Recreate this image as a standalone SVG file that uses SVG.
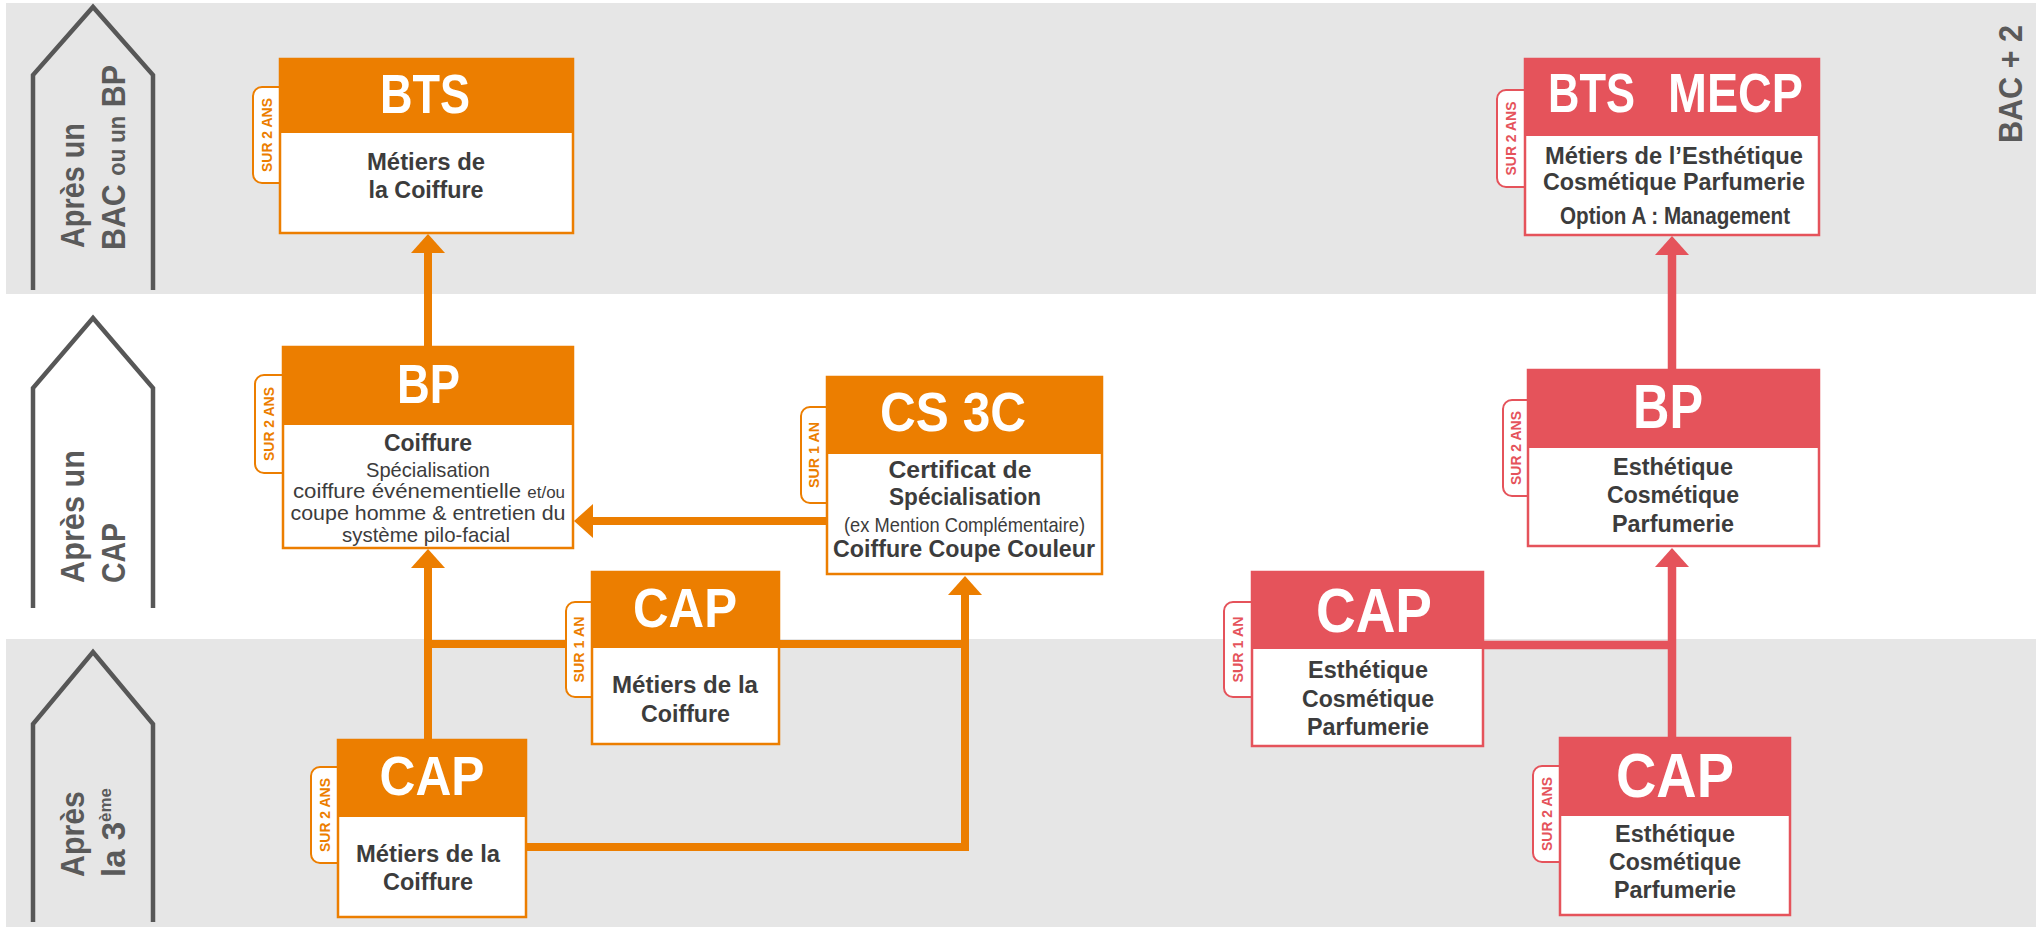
<svg xmlns="http://www.w3.org/2000/svg" width="2036" height="927" viewBox="0 0 2036 927">
<style>
.band{fill:#e6e6e6}
.pent{fill:none;stroke:#575757;stroke-width:4.5;stroke-linejoin:miter}
.ptxt{font-family:"Liberation Sans",Arial,sans-serif;font-weight:bold;font-size:33px;fill:#5a5a5a}
.o .hd{fill:#ec7e00}
.o .box{fill:#fff;stroke:#ec7e00;stroke-width:2.5}
.o .tab{fill:#fff;stroke:#ec7e00;stroke-width:2}
.o .tt{fill:#ec7e00}
.r .hd{fill:#e5535b}
.r .box{fill:#fff;stroke:#e5535b;stroke-width:2.5}
.r .tab{fill:#fff;stroke:#e5535b;stroke-width:2}
.r .tt{fill:#e5535b}
.ht{font-family:"Liberation Sans",Arial,sans-serif;font-weight:bold;font-size:56px;fill:#fff;text-anchor:middle}
.big{font-size:63px}
.b{font-family:"Liberation Sans",Arial,sans-serif;font-weight:bold;font-size:23px;fill:#3c3c3c;text-anchor:middle}
.n{font-family:"Liberation Sans",Arial,sans-serif;font-weight:normal;font-size:21px;fill:#3c3c3c;text-anchor:middle}
.tt{font-family:"Liberation Sans",Arial,sans-serif;font-weight:bold;font-size:14px;text-anchor:middle}
.ol{stroke:#ec7e00;stroke-width:8;fill:none}
.rl{stroke:#e5535b;stroke-width:8.5;fill:none}
.oa{fill:#ec7e00}
.ra{fill:#e5535b}
</style>

<g id="background">
<rect class="band" x="6" y="3" width="2030" height="291"/>
<rect class="band" x="6" y="639" width="2030" height="288"/>
</g>

<g id="level-bac">
<polyline class="pent" points="33,290 33,75 93,7 153,75 153,290"/>
<text class="ptxt" font-size="32" transform="translate(84,248) rotate(-90)" textLength="125" lengthAdjust="spacingAndGlyphs">Après un</text>
<text class="ptxt" transform="translate(125,250) rotate(-90)" textLength="185" lengthAdjust="spacingAndGlyphs">BAC <tspan font-size="24">ou un</tspan> BP</text>
</g>
<g id="level-cap">
<polyline class="pent" points="33,608 33,388 93,318 153,388 153,608"/>
<text class="ptxt" font-size="32" transform="translate(84,583) rotate(-90)" textLength="133" lengthAdjust="spacingAndGlyphs">Après un</text>
<text class="ptxt" transform="translate(125,583) rotate(-90)" textLength="60" lengthAdjust="spacingAndGlyphs">CAP</text>
</g>
<g id="level-3eme">
<polyline class="pent" points="33,922 33,724 93,652 153,724 153,922"/>
<text class="ptxt" font-size="32" transform="translate(84,877) rotate(-90)" textLength="86" lengthAdjust="spacingAndGlyphs">Après</text>
<text class="ptxt" transform="translate(125,877) rotate(-90)">la 3<tspan font-size="17" dy="-14">ème</tspan></text>
</g>
<g id="level-bac2">
<text class="ptxt" font-size="30" transform="translate(2022,143) rotate(-90)" textLength="118" lengthAdjust="spacingAndGlyphs">BAC + 2</text>
</g>

<g id="connectors">
<line class="ol" x1="428" y1="740" x2="428" y2="566"/>
<polygon class="oa" points="428,549 411,568 445,568"/>
<line class="ol" x1="428" y1="347" x2="428" y2="251"/>
<polygon class="oa" points="428,234 411,253 445,253"/>
<line class="ol" x1="428" y1="644" x2="570" y2="644"/>
<line class="ol" x1="830" y1="521" x2="591" y2="521"/>
<polygon class="oa" points="574,521 593,504 593,538"/>
<line class="ol" x1="777" y1="644" x2="965" y2="644"/>
<polyline class="ol" points="524,847 965,847 965,594"/>
<polygon class="oa" points="965,576 948,595 982,595"/>
<line class="rl" x1="1672" y1="738" x2="1672" y2="565"/>
<polygon class="ra" points="1672,548 1655,567 1689,567"/>
<line class="rl" x1="1672" y1="370" x2="1672" y2="253"/>
<polygon class="ra" points="1672,236 1655,255 1689,255"/>
<line class="rl" x1="1481" y1="645" x2="1672" y2="645"/>
</g>

<g id="bts-coiffure" class="o">
<path class="tab" d="M280,87 H262 A9,9 0 0 0 253,96 V174 A9,9 0 0 0 262,183 H280"/>
<rect class="box" x="280" y="59" width="293" height="174"/>
<rect class="hd" x="279" y="58" width="295" height="75"/>
<text class="ht" x="425" y="113" textLength="90" lengthAdjust="spacingAndGlyphs">BTS</text>
<text class="b" x="426" y="170" textLength="118" lengthAdjust="spacingAndGlyphs">Métiers de</text>
<text class="b" x="426" y="198" textLength="115" lengthAdjust="spacingAndGlyphs">la Coiffure</text>
<text class="tt" transform="translate(271.5,135) rotate(-90)" textLength="74" lengthAdjust="spacingAndGlyphs">SUR 2 ANS</text>
</g>

<g id="bp-coiffure" class="o">
<path class="tab" d="M283,375 H264 A9,9 0 0 0 255,384 V464 A9,9 0 0 0 264,473 H283"/>
<rect class="box" x="283" y="347" width="290" height="201"/>
<rect class="hd" x="282" y="346" width="292" height="79"/>
<text class="ht" x="428.5" y="403" textLength="63" lengthAdjust="spacingAndGlyphs">BP</text>
<text class="b" x="428" y="451" textLength="88" lengthAdjust="spacingAndGlyphs">Coiffure</text>
<text class="n" x="428" y="477" textLength="124" lengthAdjust="spacingAndGlyphs">Spécialisation</text>
<text class="n" x="429" y="498" textLength="272" lengthAdjust="spacingAndGlyphs">coiffure événementielle <tspan font-size="16">et/ou</tspan></text>
<text class="n" x="428" y="520" textLength="275" lengthAdjust="spacingAndGlyphs">coupe homme &amp; entretien du</text>
<text class="n" x="426" y="542" textLength="168" lengthAdjust="spacingAndGlyphs">système pilo-facial</text>
<text class="tt" transform="translate(274,424) rotate(-90)" textLength="74" lengthAdjust="spacingAndGlyphs">SUR 2 ANS</text>
</g>

<g id="cs3c" class="o">
<path class="tab" d="M827,407 H810 A9,9 0 0 0 801,416 V494 A9,9 0 0 0 810,503 H827"/>
<rect class="box" x="827" y="377" width="275" height="197"/>
<rect class="hd" x="826" y="376" width="277" height="78"/>
<text class="ht" x="953" y="431" textLength="146" lengthAdjust="spacingAndGlyphs">CS 3C</text>
<text class="b" x="960" y="478" textLength="143" lengthAdjust="spacingAndGlyphs">Certificat de</text>
<text class="b" x="965" y="505" textLength="152" lengthAdjust="spacingAndGlyphs">Spécialisation</text>
<text class="n" x="964.5" y="532" font-size="20" textLength="241" lengthAdjust="spacingAndGlyphs">(ex Mention Complémentaire)</text>
<text class="b" x="964" y="557" textLength="262" lengthAdjust="spacingAndGlyphs">Coiffure Coupe Couleur</text>
<text class="tt" transform="translate(819,455) rotate(-90)" textLength="66" lengthAdjust="spacingAndGlyphs">SUR 1 AN</text>
</g>

<g id="cap-1an-coiffure" class="o">
<path class="tab" d="M592,602 H575 A9,9 0 0 0 566,611 V688 A9,9 0 0 0 575,697 H592"/>
<rect class="box" x="592" y="572" width="187" height="172"/>
<rect class="hd" x="591" y="571" width="189" height="77"/>
<text class="ht" x="685" y="627" textLength="104" lengthAdjust="spacingAndGlyphs">CAP</text>
<text class="b" x="685" y="693" textLength="146" lengthAdjust="spacingAndGlyphs">Métiers de la</text>
<text class="b" x="685.5" y="722" textLength="89" lengthAdjust="spacingAndGlyphs">Coiffure</text>
<text class="tt" transform="translate(584,649.5) rotate(-90)" textLength="66" lengthAdjust="spacingAndGlyphs">SUR 1 AN</text>
</g>

<g id="cap-2ans-coiffure" class="o">
<path class="tab" d="M338,767 H320 A9,9 0 0 0 311,776 V854 A9,9 0 0 0 320,863 H338"/>
<rect class="box" x="338" y="740" width="188" height="177"/>
<rect class="hd" x="337" y="739" width="190" height="78"/>
<text class="ht" x="432" y="795" textLength="105" lengthAdjust="spacingAndGlyphs">CAP</text>
<text class="b" x="428" y="862" textLength="144" lengthAdjust="spacingAndGlyphs">Métiers de la</text>
<text class="b" x="428" y="890" textLength="90" lengthAdjust="spacingAndGlyphs">Coiffure</text>
<text class="tt" transform="translate(329.5,815) rotate(-90)" textLength="74" lengthAdjust="spacingAndGlyphs">SUR 2 ANS</text>
</g>

<g id="bts-mecp" class="r">
<path class="tab" d="M1525,90 H1506 A9,9 0 0 0 1497,99 V178 A9,9 0 0 0 1506,187 H1525"/>
<rect class="box" x="1525" y="59" width="294" height="176"/>
<rect class="hd" x="1524" y="58" width="296" height="78"/>
<text class="ht" x="1548" y="112" style="text-anchor:start" textLength="87" lengthAdjust="spacingAndGlyphs">BTS</text>
<text class="ht" x="1668" y="112" style="text-anchor:start" textLength="135" lengthAdjust="spacingAndGlyphs">MECP</text>
<text class="b" x="1674" y="164" textLength="258" lengthAdjust="spacingAndGlyphs">Métiers de l’Esthétique</text>
<text class="b" x="1674" y="190" textLength="262" lengthAdjust="spacingAndGlyphs">Cosmétique Parfumerie</text>
<text class="b" x="1675" y="224" font-size="20" textLength="230" lengthAdjust="spacingAndGlyphs">Option A : Management</text>
<text class="tt" transform="translate(1516,138.5) rotate(-90)" textLength="74" lengthAdjust="spacingAndGlyphs">SUR 2 ANS</text>
</g>

<g id="bp-esthetique" class="r">
<path class="tab" d="M1528,400 H1512 A9,9 0 0 0 1503,409 V487 A9,9 0 0 0 1512,496 H1528"/>
<rect class="box" x="1528" y="370" width="291" height="176"/>
<rect class="hd" x="1527" y="369" width="293" height="79"/>
<text class="ht big" x="1668" y="428" textLength="70" lengthAdjust="spacingAndGlyphs">BP</text>
<text class="b" x="1673" y="475" textLength="120" lengthAdjust="spacingAndGlyphs">Esthétique</text>
<text class="b" x="1673" y="503" textLength="132" lengthAdjust="spacingAndGlyphs">Cosmétique</text>
<text class="b" x="1673" y="532" textLength="122" lengthAdjust="spacingAndGlyphs">Parfumerie</text>
<text class="tt" transform="translate(1520.5,448) rotate(-90)" textLength="74" lengthAdjust="spacingAndGlyphs">SUR 2 ANS</text>
</g>

<g id="cap-1an-esthetique" class="r">
<path class="tab" d="M1252,602 H1233 A9,9 0 0 0 1224,611 V688 A9,9 0 0 0 1233,697 H1252"/>
<rect class="box" x="1252" y="572" width="231" height="174"/>
<rect class="hd" x="1251" y="571" width="233" height="78"/>
<text class="ht big" x="1374" y="632" textLength="116" lengthAdjust="spacingAndGlyphs">CAP</text>
<text class="b" x="1368" y="678" textLength="120" lengthAdjust="spacingAndGlyphs">Esthétique</text>
<text class="b" x="1368" y="707" textLength="132" lengthAdjust="spacingAndGlyphs">Cosmétique</text>
<text class="b" x="1368" y="735" textLength="122" lengthAdjust="spacingAndGlyphs">Parfumerie</text>
<text class="tt" transform="translate(1243,649.5) rotate(-90)" textLength="66" lengthAdjust="spacingAndGlyphs">SUR 1 AN</text>
</g>

<g id="cap-2ans-esthetique" class="r">
<path class="tab" d="M1560,766 H1542 A9,9 0 0 0 1533,775 V853 A9,9 0 0 0 1542,862 H1560"/>
<rect class="box" x="1560" y="738" width="230" height="177"/>
<rect class="hd" x="1559" y="737" width="232" height="79"/>
<text class="ht big" x="1675" y="797" textLength="118" lengthAdjust="spacingAndGlyphs">CAP</text>
<text class="b" x="1675" y="842" textLength="120" lengthAdjust="spacingAndGlyphs">Esthétique</text>
<text class="b" x="1675" y="870" textLength="132" lengthAdjust="spacingAndGlyphs">Cosmétique</text>
<text class="b" x="1675" y="898" textLength="122" lengthAdjust="spacingAndGlyphs">Parfumerie</text>
<text class="tt" transform="translate(1551.5,814) rotate(-90)" textLength="74" lengthAdjust="spacingAndGlyphs">SUR 2 ANS</text>
</g>
</svg>
